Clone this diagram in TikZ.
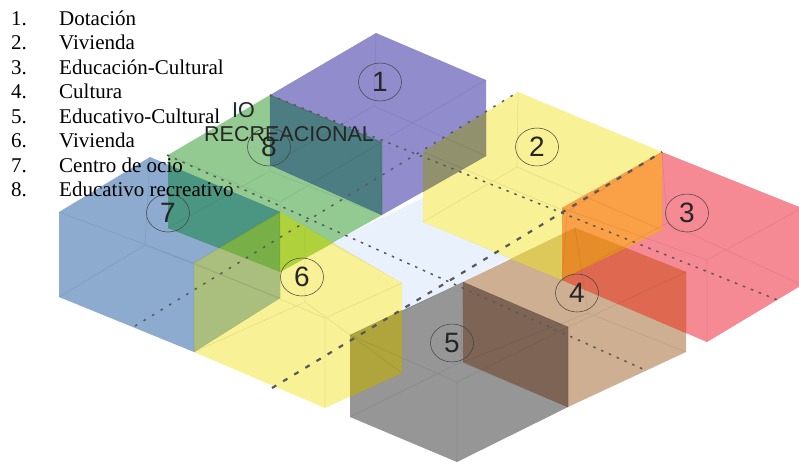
\documentclass[tikz,border=0pt]{standalone}
\usepackage{fontspec}
\setmainfont{Liberation Serif}
\newfontfamily\labelfont{Liberation Sans}
\usetikzlibrary{shapes.geometric}
\definecolor{blockpurple}{HTML}{918DCD}
\definecolor{blockgreen}{HTML}{92CA92}
\definecolor{blockblue}{HTML}{8CABCE}
\definecolor{blockyellow}{HTML}{F9F195}
\definecolor{blockred}{HTML}{F58A94}
\definecolor{blocktan}{HTML}{CFAF92}
\definecolor{blockgray}{HTML}{969696}
\definecolor{groundblue}{HTML}{E9F2FC}

\begin{document}
\begin{tikzpicture}[x=1pt,y=-1pt,
			block/.style={blend mode=multiply},
			wire/.style={draw=black, opacity=.07, line width=.7pt},
			axis/.style={draw=black!65, line width=1.5pt, dash pattern=on 2.5pt off 6pt},
			axiswide/.style={draw=black!65, line width=1.5pt, dash pattern=on 2.5pt off 7.5pt},
			axisthick/.style={draw=black!65, line width=2.2pt, dash pattern=on 5pt off 8pt},
			num/.style={draw=black!75, ellipse, line width=.5pt, minimum width=43pt, minimum height=38pt, inner sep=0pt, text=black!85, font=\labelfont\fontsize{28}{28}\selectfont},
			ghost/.style={anchor=base west, inner sep=0pt, text=black!85, font=\labelfont\fontsize{21.5}{21.5}\selectfont},
			item/.style={anchor=base west, inner sep=0pt, font=\fontsize{21}{21}\selectfont}]
			\useasboundingbox (0,0) rectangle (799,464);
			\fill[white] (0,0) rectangle (799,464);
			% ground between the blocks
			\fill[groundblue] (330,243) -- (423,198) -- (423,222) -- (510,258) -- (463,282) -- (402,312) -- (402,283) -- cycle;
			\fill[groundblue!50] (232,103) -- (252,103) -- (252,117) -- (232,117) -- cycle;
			% blocks
			\fill[block, fill=blockpurple] (270,95) -- (376,33) -- (486,80) -- (486,156) -- (382,215) -- (270,165) -- cycle;
			\fill[block, fill=blockgreen] (168,155) -- (270,95) -- (382,142) -- (382,215) -- (280,272) -- (168,228) -- cycle;
			\fill[block, fill=blockblue] (59,212) -- (150,157) -- (280,212) -- (280,298) -- (194,352) -- (59,297) -- cycle;
			\fill[block, fill=blockyellow] (194,263) -- (280,212) -- (402,283) -- (402,373) -- (325,408) -- (194,352) -- cycle;
			\fill[block, fill=blockyellow] (423,152) -- (518,92) -- (662,152) -- (662,230) -- (562,280) -- (423,222) -- cycle;
			\fill[block, fill=blockred] (562,208) -- (662,152) -- (802,208) -- (802,285) -- (707,342) -- (562,280) -- cycle;
			\fill[block, fill=blocktan] (463,282) -- (575,228) -- (686,272) -- (686,352) -- (568,407) -- (463,362) -- cycle;
			\fill[block, fill=blockgray] (350,335) -- (463,282) -- (568,327) -- (568,407) -- (457,462) -- (350,417) -- cycle;
			% overlaps
			\fill[fill={rgb,255:red,75;green,125;blue,130}] (270,95) -- (382,142) -- (382,215) -- (270,165) -- cycle;
			\fill[fill={rgb,255:red,75;green,150;blue,130}] (168,165) -- (280,212) -- (219,248) -- (168,228) -- cycle;
			\fill[fill={rgb,255:red,120;green,175;blue,70}] (219,248) -- (280,212) -- (280,272) -- cycle;
			\fill[fill={rgb,255:red,175;green,210;blue,60}] (280,212) -- (333,243) -- (280,272) -- cycle;
			\fill[fill={rgb,255:red,170;green,190;blue,125}] (194,263) -- (219,248) -- (280,272) -- (280,298) -- (194,352) -- cycle;
			\fill[fill={rgb,255:red,145;green,145;blue,110}] (423,152) -- (486,112) -- (486,156) -- (423,192) -- cycle;
			\fill[fill={rgb,255:red,250;green,160;blue,70}] (562,208) -- (662,152) -- (662,230) -- (626,248) -- (575,228) -- (562,234) -- cycle;
			\fill[fill={rgb,255:red,230;green,140;blue,40}] (562,234) -- (575,228) -- (626,248) -- (562,280) -- cycle;
			\fill[fill={rgb,255:red,221;green,200;blue,90}] (511,259) -- (562,234) -- (562,280) -- cycle;
			\fill[fill={rgb,255:red,222;green,105;blue,80}] (562,280) -- (626,248) -- (686,272) -- (686,333) -- cycle;
			\fill[fill={rgb,255:red,125;green,100;blue,85}] (463,282) -- (568,327) -- (568,407) -- (463,362) -- cycle;
			\fill[fill={rgb,255:red,175;green,165;blue,60}] (350,335) -- (402,310) -- (402,373) -- (350,397) -- cycle;
			% inner edges
			\draw[wire] (270,95) -- (380,142) -- (486,80) (380,142) -- (382,215) (270,165) -- (374,106) -- (486,156) (374,106) -- (376,33);
			\draw[wire] (168,155) -- (280,202) -- (382,142) (280,202) -- (280,272) (168,228) -- (270,171) -- (382,215) (270,171) -- (270,95);
			\draw[wire] (59,212) -- (194,263) -- (280,212) (194,263) -- (194,352) (59,297) -- (145,245) -- (280,298) (145,245) -- (150,157);
			\draw[wire] (194,263) -- (325,318) -- (402,283) (325,318) -- (325,408) (194,352) -- (305,302) -- (402,373) (305,302) -- (305,228);
			\draw[wire] (423,152) -- (567,212) -- (662,152) (567,212) -- (562,280) (423,222) -- (517,167) -- (662,230) (517,167) -- (518,92);
			\draw[wire] (562,208) -- (707,260) -- (802,208) (707,260) -- (707,342) (562,280) -- (667,223) -- (802,285) (667,223) -- (662,152);
			\draw[wire] (463,282) -- (568,327) -- (686,272) (568,327) -- (568,407) (463,362) -- (588,313) -- (686,352) (588,313) -- (575,228);
			\draw[wire] (350,335) -- (457,382) -- (568,327) (457,382) -- (457,462) (350,417) -- (461,362) -- (568,407) (461,362) -- (463,282);
			% axes
			\draw[axis] (270,95) -- (780,301);
			\draw[axis] (167,155) -- (645,370);
			\draw[axiswide] (135,326) -- (518,92);
			\draw[axisthick] (272,388) -- (662,152);
			% text under the blocks
			\node[ghost] (plazaa) at (232,117) {IO};
			\node[ghost] (plazab) at (204,141) {RECREACIONAL};
			% numbers
			\node[num] (n1) at (380,82) {1};
			\node[num] (n2) at (537,147) {2};
			\node[num] (n3) at (687,213) {3};
			\node[num] (n4) at (577,293) {4};
			\node[num] (n5) at (452,343) {5};
			\node[num] (n6) at (302,277) {6};
			\node[num] (n7) at (168,213) {7};
			\node[num] (n8) at (269,147) {8};
			% list
			\foreach \i/\t [evaluate=\i as \y using {25+(\i-1)*24.55}] in {1/Dotación,2/Vivienda,3/Educación-Cultural,4/Cultura,5/Educativo-Cultural,6/Vivienda,7/Centro de ocio,8/Educativo recreativo}{
				\node[item] (k\i) at (11,\y) {\i.};
				\node[item] (t\i) at (59,\y) {\t};
			}
		\end{tikzpicture}
\end{document}
